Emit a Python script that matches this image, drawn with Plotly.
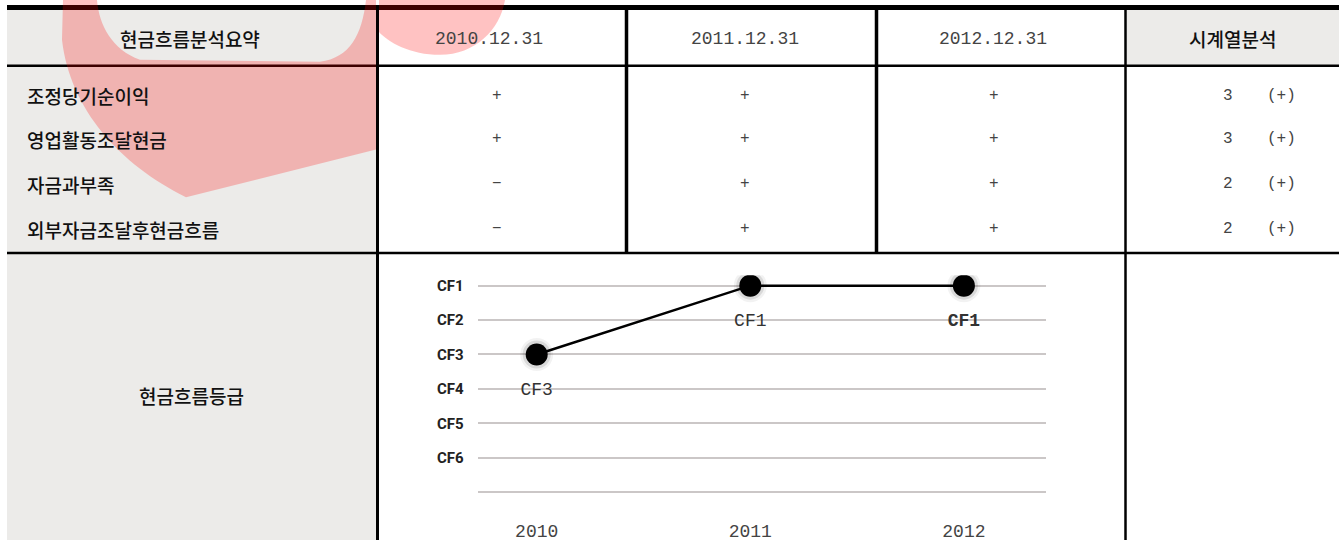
import plotly.graph_objects as go

# ---------------- data ----------------
summary_title = "현금흐름분석요약"
trend_title = "시계열분석"
grade_title = "현금흐름등급"
row_labels = ["조정당기순이익", "영업활동조달현금", "자금과부족", "외부자금조달후현금흐름"]
period_labels = ["2010.12.31", "2011.12.31", "2012.12.31"]
signs_2010 = ["+", "+", "−", "−"]
signs_2011 = ["+", "+", "+", "+"]
signs_2012 = ["+", "+", "+", "+"]
trend_counts = ["3", "3", "2", "2"]
trend_signs = ["(+)", "(+)", "(+)", "(+)"]

years = ["2010", "2011", "2012"]
grades = [3, 1, 1]
grade_point_labels = ["CF3", "CF1", "<b>CF1</b>"]
grade_tick_vals = [1, 2, 3, 4, 5, 6, 7]
grade_tick_text = ["CF1", "CF2", "CF3", "CF4", "CF5", "CF6", ""]

# ---------------- layout helpers ----------------
W, H = 1339, 542


def px(x):
    return x / W


def py(y):
    return 1 - y / H


def ppath(pts_cmds):
    out = []
    for tok in pts_cmds:
        if isinstance(tok, str):
            out.append(tok)
        else:
            out.append(f"{px(tok[0]):.5f},{py(tok[1]):.5f}")
    return " ".join(out)


shapes = []


def rect(x0, y0, x1, y1, color):
    shapes.append(dict(type="rect", xref="paper", yref="paper", x0=px(x0), x1=px(x1),
                       y0=py(y1), y1=py(y0), fillcolor=color, line=dict(width=0), layer="below"))


def hline(x0, x1, y, w):
    shapes.append(dict(type="line", xref="paper", yref="paper", x0=px(x0), x1=px(x1),
                       y0=py(y), y1=py(y), line=dict(color="#000", width=w), layer="above"))


def vline(x, y0, y1, w):
    shapes.append(dict(type="line", xref="paper", yref="paper", x0=px(x), x1=px(x),
                       y0=py(y0), y1=py(y1), line=dict(color="#000", width=w), layer="above"))


GRAY = "#ECEBE9"
rect(7, 10, 377, 542, GRAY)
rect(1126, 10, 1339, 65, GRAY)

hline(7, 1339, 7.5, 5)
hline(7, 1339, 66, 2.5)
hline(7, 1339, 254, 2.5)
vline(377.5, 10, 542, 3)
vline(626.5, 10, 254, 3.5)
vline(876.5, 10, 254, 3.5)
vline(1125.5, 10, 542, 2.5)

# watermark (translucent red "S")
WM = "rgba(255,0,0,0.24)"
shapes.append(dict(type="path", xref="paper", yref="paper", layer="above",
                   fillcolor=WM, line=dict(width=0),
                   path=ppath(["M", (63, 0), "L", (97, 0),
                               "C", (99, 25), (112, 50), (140, 60),
                               "L", (320, 62),
                               "C", (350, 58), (362, 35), (366, 0),
                               "L", (376, 0), "L", (376, 150),
                               "L", (186, 198),
                               "C", (120, 165), (70, 110), (62, 40), "Z"])))
shapes.append(dict(type="path", xref="paper", yref="paper", layer="above",
                   fillcolor=WM, line=dict(width=0),
                   path=ppath(["M", (379, 0), "L", (505, 0),
                               "C", (500, 30), (475, 55), (440, 55),
                               "C", (410, 55), (388, 42), (379, 32), "Z"])))

annotations = []
KR = "Noto Sans CJK KR, Noto Sans, sans-serif"
MONO = "Courier New, Liberation Mono, monospace"


def text(x, y, s, font, size, color, anchor="center", weight="normal"):
    annotations.append(dict(xref="paper", yref="paper", x=px(x), y=py(y), text=s,
                            showarrow=False, xanchor=anchor, yanchor="middle",
                            font=dict(family=font, size=size, color=color, weight=weight)))


text(190, 39, summary_title, KR, 19, "#111", weight=500)
text(1232, 39, trend_title, KR, 19, "#111", weight=500)
text(191, 397, grade_title, KR, 19, "#111", weight=500)

date_x = [489, 745, 993]
for xx, lab in zip(date_x, period_labels):
    text(xx, 39, lab, MONO, 18, "#444")

row_y = [96, 140, 185, 230]
sign_x = [497, 745, 994]
for i, yy in enumerate(row_y):
    text(25, yy, row_labels[i], KR, 19, "#111", anchor="left", weight=500)
    for xx, col in zip(sign_x, [signs_2010, signs_2011, signs_2012]):
        text(xx, yy, col[i], MONO, 16, "#444")
    text(1228, yy, trend_counts[i], MONO, 16, "#444")
    text(1281, yy, trend_signs[i], MONO, 16, "#444")

# ---------------- chart ----------------
x0_px, x1_px = 477.7, 1045.7
cat0_px, step_px = 536.7, 213.6
y_top_px, y_step = 286.7, 34.55
pad = 0.3
ydom_top = y_top_px - pad * y_step
ydom_bot = y_top_px + (6 + pad) * y_step

fig = go.Figure()
fig.add_trace(go.Scatter(x=years, y=grades, mode="markers", hoverinfo="skip",
                         marker=dict(size=33, color="rgba(0,0,0,0.05)"), showlegend=False))
fig.add_trace(go.Scatter(x=years, y=grades, mode="markers", hoverinfo="skip",
                         marker=dict(size=28, color="rgba(0,0,0,0.10)"), showlegend=False))
fig.add_trace(go.Scatter(x=years, y=grades, mode="lines+markers",
                         line=dict(color="#000", width=2.5),
                         marker=dict(size=22, color="#000"), showlegend=False))
fig.add_trace(go.Scatter(x=years, y=grades, mode="markers+text", text=grade_point_labels,
                         textposition="bottom center", hoverinfo="skip",
                         textfont=dict(family=MONO, size=18, color="#333"),
                         marker=dict(size=42, color="rgba(0,0,0,0)"), showlegend=False))

fig.update_layout(
    width=W, height=H, autosize=False, margin=dict(l=0, r=0, t=0, b=0),
    paper_bgcolor="white", plot_bgcolor="rgba(0,0,0,0)",
    shapes=shapes, annotations=annotations,
    xaxis=dict(domain=[px(x0_px), px(x1_px)], anchor="y",
               range=[(x0_px - cat0_px) / step_px, (x1_px - cat0_px) / step_px],
               showgrid=False, zeroline=False, showline=False,
               ticks="outside", ticklen=12, tickcolor="rgba(0,0,0,0)",
               tickfont=dict(family=MONO, size=18, color="#444")),
    yaxis=dict(domain=[py(ydom_bot), py(ydom_top)], range=[7 + pad, 1 - pad],
               tickvals=grade_tick_vals, ticktext=grade_tick_text,
               showgrid=True, gridcolor="#cbc7c7", gridwidth=1.5, zeroline=False,
               showline=False, ticks="outside", ticklen=10, tickcolor="rgba(0,0,0,0)",
               tickfont=dict(family="Liberation Sans Narrow, Arial Narrow, Roboto, sans-serif",
                             size=15, color="#222", weight="bold")),
)

fig.write_html("out.html",
               config=dict(displayModeBar=False, responsive=False),
               post_script="document.body.style.margin='0';document.body.style.overflow='hidden';")
